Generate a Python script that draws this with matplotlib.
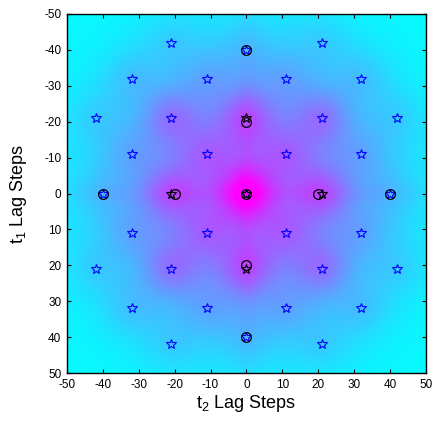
import matplotlib.pyplot as plt
import numpy as np

plt.rcParams['font.family'] = 'Liberation Sans'
plt.rcParams['mathtext.fontset'] = 'custom'
plt.rcParams['mathtext.rm'] = 'Liberation Sans'
plt.rcParams['axes.unicode_minus'] = False

# lag grid (steps)
lags = np.arange(-50, 51)

# correlation peaks: t2 lag, t1 lag, peak height above the broad background
peak_t2 = [0, -21, 21, 0, 0, -11, 11, -11, 11, -21, 21, -21, 21,
           -32, 32, -32, 32, -11, 11, -11, 11, -40, 40, 0, 0,
           -32, 32, -32, 32, -42, 42, -42, 42, -21, 21, -21, 21]
peak_t1 = [0, 0, 0, -21, 21, -11, -11, 11, 11, -21, -21, 21, 21,
           -11, -11, 11, 11, -32, -32, 32, 32, 0, 0, -40, 40,
           -32, -32, 32, 32, -21, -21, 21, 21, -42, -42, 42, 42]
peak_amp = [0.50, 0.30, 0.30, 0.30, 0.30, 0.19, 0.19, 0.19, 0.19, 0.27, 0.27, 0.27, 0.27,
            0.11, 0.11, 0.11, 0.11, 0.11, 0.11, 0.11, 0.11, 0.08, 0.08, 0.08, 0.08,
            0.11, 0.11, 0.11, 0.11, 0.08, 0.08, 0.08, 0.08, 0.08, 0.08, 0.08, 0.08]
background_amp = 0.5
background_width = 28.0
peak_width = 5.5
ridge_amp = 0.05

# predicted lattice positions (blue stars)
pred_t2 = [-21, 21, 0, -32, -11, 11, 32, -42, -21, 21, 42, -32, -11, 11, 32,
           -40, 0, 40, -32, -11, 11, 32, -42, -21, 21, 42, -32, -11, 11, 32, 0, -21, 21]
pred_t1 = [-42, -42, -40, -32, -32, -32, -32, -21, -21, -21, -21, -11, -11, -11, -11,
           0, 0, 0, 11, 11, 11, 11, 21, 21, 21, 21, 32, 32, 32, 32, 40, 42, 42]

# first-order peaks (black stars)
first_t2 = [0, -21, 21, 0, 0]
first_t1 = [0, 0, 0, -21, 21]

# detected maxima (circles)
det_t2 = [0, -20, 20, 0, 0, 0, 0, -40, 40]
det_t1 = [0, 0, 0, -20, 20, -40, 40, 0, 0]

X, Y = np.meshgrid(lags, lags)
R2 = X**2 + Y**2
C = background_amp * np.exp(-R2 / (2 * background_width**2))
for px, py, a in zip(peak_t2, peak_t1, peak_amp):
    C += a * np.exp(-((X - px)**2 + (Y - py)**2) / (2 * peak_width**2))
C += ridge_amp * (np.exp(-X**2 / 8.0) + np.exp(-Y**2 / 8.0)) * np.exp(-R2 / (2 * 40.0**2))

fig = plt.figure(figsize=(4.32, 4.24), dpi=100)
ax = fig.add_axes([0.155, 0.120, 0.831, 0.847])
ax.imshow(C, cmap='cool', vmin=0, vmax=1, extent=[-50.5, 50.5, 50.5, -50.5],
          interpolation='bilinear', aspect='auto')

ax.plot(pred_t2, pred_t1, linestyle='none', marker='*', markersize=7,
        markerfacecolor='none', markeredgecolor='b', markeredgewidth=0.8)
ax.plot(first_t2, first_t1, linestyle='none', marker='*', markersize=7,
        markerfacecolor='none', markeredgecolor='k', markeredgewidth=0.8)
ax.plot(det_t2, det_t1, linestyle='none', marker='o', markersize=7,
        markerfacecolor='none', markeredgecolor='k', markeredgewidth=0.9)

ax.set_xlim(-50, 50)
ax.set_ylim(50, -50)
ax.set_xticks(np.arange(-50, 51, 10))
ax.set_yticks(np.arange(-50, 51, 10))
ax.tick_params(direction='in', top=True, right=True, labelsize=8.5, length=3, pad=4)
for s in ax.spines.values():
    s.set_linewidth(1.0)

ax.set_xlabel(r'$\mathregular{t_2}$ Lag Steps', fontsize=13, labelpad=2)
ax.set_ylabel(r'$\mathregular{t_1}$ Lag Steps', fontsize=13)
ax.yaxis.set_label_coords(-0.105, 0.5)

fig.savefig('out.png', dpi=100)
